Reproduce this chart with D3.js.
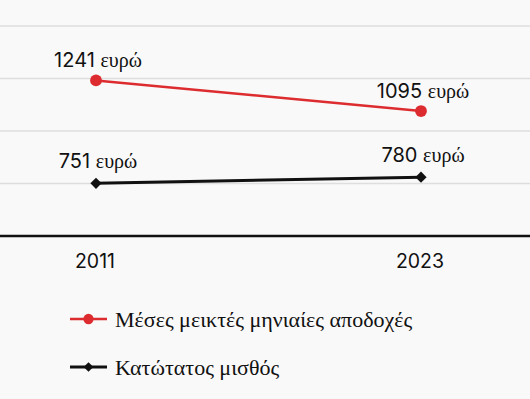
<!DOCTYPE html>
<html>
<head>
<meta charset="utf-8">
<script src="https://cdn.jsdelivr.net/npm/d3@7"></script>
<style>
  html, body { margin: 0; padding: 0; background: #f9f9f9; }
  svg { display: block; }
</style>
</head>
<body>
<svg id="chart"></svg>
<script>
const years = [2011, 2023];
const avgWage = [1241, 1095];
const minWage = [751, 780];
const gridValues = [750, 1000, 1250, 1500];
const seriesNames = ["Μέσες μεικτές μηνιαίες αποδοχές", "Κατώτατος μισθός"];
const unit = "ευρώ";

const width = 530;
const height = 399;
const red = "#dd2c2f";
const sans = "Inter, 'Open Sans', sans-serif";
const serif = "'Liberation Serif', 'DejaVu Serif', serif";

const svg = d3.select("#chart").attr("width", width).attr("height", height);

svg.append("rect").attr("width", width).attr("height", height).attr("fill", "#f9f9f9");

const x = d3.scaleLinear().domain([2011, 2023]).range([96, 421]);
const y = d3.scaleLinear().domain([500, 1500]).range([236, 26]);

// gridlines
svg.selectAll(".grid")
  .data(gridValues)
  .enter()
  .append("line")
  .attr("x1", 0)
  .attr("x2", width)
  .attr("y1", (d) => y(d))
  .attr("y2", (d) => y(d))
  .style("stroke", "#dedede")
  .style("stroke-width", "1.5px");

// baseline
svg.append("line")
  .attr("x1", 0)
  .attr("x2", width)
  .attr("y1", y(500))
  .attr("y2", y(500))
  .style("stroke", "#111")
  .style("stroke-width", "2.5px");

// year labels
svg.selectAll(".year")
  .data(years)
  .enter()
  .append("text")
  .attr("x", (d) => x(d) - 1)
  .attr("y", 268)
  .attr("text-anchor", "middle")
  .style("font-family", sans)
  .style("font-size", "19.5px")
  .style("fill", "#111")
  .text((d) => d);

const line = d3.line()
  .x((d, i) => x(years[i]))
  .y((d) => y(d));

const series = [
  { values: avgWage, color: red, marker: d3.symbolCircle, size: 110, width: 2.5, offset: 13 },
  { values: minWage, color: "#111", marker: d3.symbolDiamond2, size: 80, width: 3, offset: 15 }
];

series.forEach((s) => {
  svg.append("path")
    .datum(s.values)
    .attr("d", line)
    .style("fill", "none")
    .style("stroke", s.color)
    .style("stroke-width", s.width + "px");

  svg.selectAll(null)
    .data(s.values)
    .enter()
    .append("path")
    .attr("d", d3.symbol().type(s.marker).size(s.size))
    .attr("transform", (d, i) => `translate(${x(years[i])},${y(d)})`)
    .style("fill", s.color);

  const label = svg.selectAll(null)
    .data(s.values)
    .enter()
    .append("text")
    .attr("x", (d, i) => x(years[i]) + 2)
    .attr("y", (d) => y(d) - s.offset)
    .attr("text-anchor", "middle")
    .style("fill", "#111");
  label.append("tspan")
    .style("font-family", sans)
    .style("font-size", "20px")
    .text((d) => d + " ");
  label.append("tspan")
    .style("font-family", serif)
    .style("font-size", "20px")
    .text(unit);
});

// legend
const legendY = [319, 367];
series.forEach((s, i) => {
  const g = svg.append("g").attr("transform", `translate(70,${legendY[i]})`);
  g.append("line")
    .attr("x1", 0)
    .attr("x2", 37)
    .style("stroke", s.color)
    .style("stroke-width", s.width + "px");
  g.append("path")
    .attr("d", d3.symbol().type(s.marker).size(s.size * 0.75))
    .attr("transform", "translate(18.5,0)")
    .style("fill", s.color);
  g.append("text")
    .attr("x", 45)
    .attr("y", 8)
    .style("font-family", serif)
    .style("font-size", "22px")
    .style("fill", "#111")
    .text(seriesNames[i]);
});
</script>
</body>
</html>
